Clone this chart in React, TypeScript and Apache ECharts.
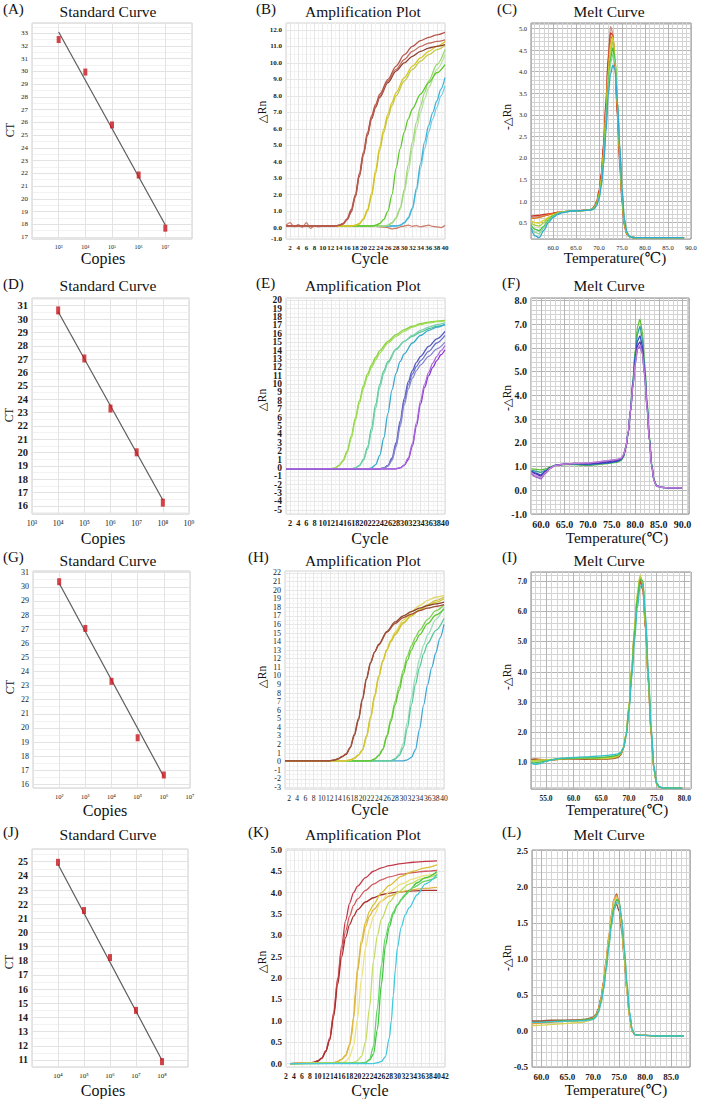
import React, { useEffect, useRef } from "react";
import * as echarts from "echarts";

const SERIF = "Liberation Serif, DejaVu Serif, serif";
const SUP = ["⁰", "¹", "²", "³", "⁴", "⁵", "⁶", "⁷", "⁸", "⁹"];

/* ================= Standard curves ================= */
const copiesA = [1e3, 1e4, 1e5, 1e6, 1e7];
const ctA = [32.5, 29.95, 25.8, 21.87, 17.7];
const fitA = [33.1, 17.95];
const copiesD = [1e4, 1e5, 1e6, 1e7, 1e8];
const ctD = [30.65, 27.05, 23.3, 20.02, 16.25];
const fitD = [30.55, 16.45];
const copiesG = [1e2, 1e3, 1e4, 1e5, 1e6];
const ctG = [30.36, 27.05, 23.3, 19.3, 16.66];
const fitG = [30.25, 16.54];
const copiesJ = [1e4, 1e5, 1e6, 1e7, 1e8];
const ctJ = [24.96, 21.55, 18.23, 14.5, 10.88];
const fitJ = [24.82, 10.98];

/* ================= Amplification plots ([cycle, ΔRn]) ================= */
// (B)
const bBrown1 = [[1,0.12],[13,0.1],[14,0.15],[15,0.25],[16,0.55],[17,1.1],[18,2.0],[19,3.3],[20,4.6],[21,5.8],[22,6.8],[23,7.5],[24,8.1],[26,9.0],[28,9.8],[30,10.5],[32,11.0],[34,11.35],[36,11.55],[38,11.7],[40,11.85]];
const bBrown2 = [[1,0.1],[13,0.1],[14,0.14],[15,0.24],[16,0.5],[17,1.0],[18,1.9],[19,3.2],[20,4.5],[21,5.7],[22,6.7],[23,7.4],[24,8.0],[26,8.9],[28,9.6],[30,10.2],[32,10.7],[34,11.0],[36,11.2],[38,11.3],[40,11.4]];
const bBrown3 = [[1,0.1],[13,0.1],[14,0.14],[15,0.22],[16,0.48],[17,0.95],[18,1.85],[19,3.1],[20,4.4],[21,5.6],[22,6.6],[23,7.3],[24,7.9],[26,8.8],[28,9.5],[30,10.0],[32,10.4],[34,10.7],[36,10.9],[38,11.0],[40,11.1]];
const bYellow1 = [[1,0.1],[17,0.1],[18,0.15],[19,0.25],[20,0.55],[21,1.1],[22,2.1],[23,3.5],[24,4.9],[25,6.0],[26,6.9],[27,7.6],[28,8.2],[30,9.1],[32,9.8],[34,10.3],[36,10.7],[38,11.0],[40,11.3]];
const bYellow2 = [[1,0.1],[17,0.1],[18,0.14],[19,0.22],[20,0.5],[21,1.0],[22,1.9],[23,3.3],[24,4.7],[25,5.8],[26,6.7],[27,7.4],[28,8.0],[30,8.9],[32,9.6],[34,10.1],[36,10.5],[38,10.8],[40,11.05]];
const bGreen = [[1,0.1],[22,0.1],[23,0.15],[24,0.25],[25,0.5],[26,1.0],[27,2.0],[28,3.6],[29,4.8],[30,5.8],[31,6.6],[32,7.2],[34,8.1],[36,8.8],[38,9.4],[40,9.9]];
const bLime1 = [[1,0.1],[25,0.1],[26,0.15],[27,0.3],[28,0.6],[29,1.2],[30,2.3],[31,3.8],[32,5.2],[33,6.4],[34,7.4],[35,8.2],[36,8.9],[38,9.9],[40,10.8]];
const bLime2 = [[1,0.1],[25,0.1],[26,0.14],[27,0.27],[28,0.55],[29,1.1],[30,2.1],[31,3.4],[32,4.8],[33,6.0],[34,7.0],[35,7.8],[36,8.5],[38,9.6],[40,10.5]];
const bCyan1 = [[1,0.1],[28,0.1],[29,0.15],[30,0.3],[31,0.6],[32,1.2],[33,2.4],[34,3.9],[35,5.2],[36,6.2],[37,7.0],[38,7.7],[39,8.4],[40,9.1]];
const bCyan2 = [[1,0.1],[28,0.1],[29,0.14],[30,0.27],[31,0.55],[32,1.1],[33,2.2],[34,3.6],[35,4.8],[36,5.8],[37,6.6],[38,7.3],[39,8.0],[40,8.6]];
const bNtc = [[1,0.15],[2,0.3],[3,0.05],[4,0.18],[5,0.02],[6,0.3],[7,-0.05],[8,0.12],[9,0.05],[10,0.1],[12,0.08],[14,0.12],[16,0.1],[18,0.12],[20,0.08],[22,0.1],[24,0.05],[26,0.0],[27,-0.08],[28,-0.05],[29,0.05],[30,0.1],[31,0.15],[32,0.08],[33,0.12],[34,0.05],[35,0.1],[36,0.15],[37,0.08],[38,0.05],[39,0.0],[40,0.15]];
const bColors = ["#b5574a", "#c4685c", "#8c3e2e", "#d6c420", "#c2c848", "#5cc828", "#9cd878", "#b4e29a", "#3fb4d8", "#74cbe4", "#cc7a68"];

// (E)
const eLime1 = [[1,-0.1],[12,-0.1],[13,0.0],[14,0.3],[15,0.9],[16,2.0],[17,3.8],[18,5.9],[19,8.0],[20,9.8],[21,11.2],[22,12.3],[23,13.2],[24,14.0],[26,15.1],[28,15.9],[30,16.5],[32,16.9],[34,17.2],[36,17.4],[38,17.5],[40,17.6]];
const eLime2 = [[1,-0.1],[12,-0.1],[13,-0.02],[14,0.25],[15,0.8],[16,1.8],[17,3.5],[18,5.6],[19,7.7],[20,9.5],[21,10.9],[22,12.0],[23,12.9],[24,13.7],[26,14.9],[28,15.7],[30,16.3],[32,16.8],[34,17.1],[36,17.3],[38,17.45],[40,17.55]];
const eTeal1 = [[1,-0.1],[17,-0.1],[18,0.0],[19,0.3],[20,1.0],[21,2.5],[22,4.8],[23,7.6],[24,10.0],[25,11.6],[26,12.7],[28,14.2],[30,15.1],[32,15.7],[34,16.2],[36,16.6],[38,16.9],[40,17.1]];
const eTeal2 = [[1,-0.1],[17,-0.1],[18,-0.02],[19,0.25],[20,0.9],[21,2.2],[22,4.3],[23,7.1],[24,9.6],[25,11.3],[26,12.5],[28,14.1],[30,15.1],[32,15.8],[34,16.4],[36,16.8],[38,17.1],[40,17.3]];
const eCyan = [[1,-0.1],[21,-0.1],[22,0.0],[23,0.4],[24,1.5],[25,3.6],[26,6.5],[27,9.3],[28,11.3],[29,12.7],[30,13.6],[32,14.9],[34,15.8],[36,16.4],[38,16.8],[40,17.1]];
const eBlue1 = [[1,-0.1],[24,-0.1],[25,0.0],[26,0.3],[27,1.2],[28,3.0],[29,5.6],[30,8.3],[31,10.3],[32,11.6],[33,12.6],[34,13.3],[36,14.5],[38,15.4],[40,16.3]];
const eBlue2 = [[1,-0.1],[24,-0.1],[25,-0.02],[26,0.25],[27,1.0],[28,2.7],[29,5.2],[30,7.9],[31,9.9],[32,11.2],[33,12.1],[34,12.8],[36,13.9],[38,14.9],[40,15.8]];
const eBlue3 = [[1,-0.1],[24,-0.1],[25,-0.03],[26,0.2],[27,0.9],[28,2.5],[29,4.9],[30,7.5],[31,9.4],[32,10.7],[33,11.6],[34,12.3],[36,13.3],[38,14.2],[40,15.0]];
const ePurple1 = [[1,-0.1],[28,-0.1],[29,0.0],[30,0.3],[31,1.0],[32,2.6],[33,5.0],[34,7.6],[35,9.6],[36,11.0],[37,12.0],[38,12.8],[39,13.5],[40,14.1]];
const ePurple2 = [[1,-0.1],[28,-0.1],[29,0.02],[30,0.35],[31,1.2],[32,2.9],[33,5.4],[34,8.0],[35,10.0],[36,11.4],[37,12.5],[38,13.3],[39,14.0],[40,14.6]];
const eColors = ["#86d23a", "#a2dc58", "#52c690", "#7ad0b0", "#36a8cc", "#5458c0", "#6c74cc", "#8a88d0", "#8c34d2", "#a868dc"];

// (H)
const hBrown1 = [[1,0.1],[12,0.1],[13,0.2],[14,0.35],[15,0.6],[16,0.9],[17,1.7],[18,3.2],[19,5.0],[20,7.4],[21,9.8],[22,11.6],[23,12.8],[24,13.6],[26,15.1],[28,16.1],[30,16.8],[32,17.2],[34,17.6],[36,17.9],[38,18.1],[40,18.3]];
const hBrown2 = [[1,0.1],[12,0.1],[13,0.18],[14,0.3],[15,0.55],[16,0.85],[17,1.6],[18,3.0],[19,4.8],[20,7.2],[21,9.6],[22,11.5],[23,12.8],[24,13.7],[26,15.2],[28,16.3],[30,17.0],[32,17.5],[34,17.9],[36,18.2],[38,18.4],[40,18.6]];
const hYellow1 = [[1,0.1],[16,0.1],[17,0.2],[18,0.4],[19,0.8],[20,1.4],[21,3.0],[22,5.3],[23,7.8],[24,10.0],[25,11.8],[26,13.1],[27,14.1],[28,14.9],[30,16.2],[32,17.1],[34,17.7],[36,18.2],[38,18.6],[40,19.0]];
const hYellow2 = [[1,0.1],[16,0.1],[17,0.18],[18,0.36],[19,0.72],[20,1.3],[21,2.8],[22,5.0],[23,7.5],[24,9.8],[25,11.7],[26,13.1],[27,14.2],[28,15.1],[30,16.5],[32,17.5],[34,18.2],[36,18.8],[38,19.2],[40,19.4]];
const hYellow3 = [[1,0.1],[16,0.1],[17,0.19],[18,0.38],[19,0.76],[20,1.35],[21,2.9],[22,5.1],[23,7.6],[24,9.9],[25,11.7],[26,13.0],[27,14.0],[28,14.8],[30,16.1],[32,17.0],[34,17.7],[36,18.3],[38,18.8],[40,19.2]];
const hGreen1 = [[1,0.1],[22,0.1],[23,0.3],[24,0.7],[25,1.4],[26,2.9],[27,4.7],[28,6.6],[29,8.3],[30,10.2],[31,11.8],[32,13.0],[33,14.0],[34,14.8],[36,16.1],[38,17.1],[40,17.8]];
const hGreen2 = [[1,0.1],[22,0.1],[23,0.32],[24,0.75],[25,1.5],[26,3.1],[27,5.0],[28,7.0],[29,8.8],[30,10.7],[31,12.3],[32,13.5],[33,14.5],[34,15.3],[36,16.6],[38,17.6],[40,18.3]];
const hTeal1 = [[1,0.1],[27,0.1],[28,0.3],[29,0.7],[30,1.6],[31,3.9],[32,6.6],[33,9.0],[34,11.0],[35,12.6],[36,13.8],[38,15.3],[40,16.7]];
const hTeal2 = [[1,0.1],[27,0.1],[28,0.35],[29,0.9],[30,2.1],[31,4.6],[32,7.4],[33,9.9],[34,12.0],[35,13.6],[36,14.8],[38,16.6],[40,18.0]];
const hCyan = [[1,0.1],[30,0.1],[31,0.2],[32,0.5],[33,1.4],[34,3.8],[35,6.6],[36,9.0],[37,11.0],[38,12.7],[39,14.4],[40,16.0]];
const hColors = ["#a14f38", "#8e4430", "#d2c62c", "#e2d66a", "#c8c040", "#5ec834", "#7ed050", "#56c89a", "#9edcb8", "#3ea8d2"];

// (K)
const kRed1 = [[3,0.0],[8,0.01],[9,0.03],[10,0.06],[11,0.13],[12,0.3],[13,0.6],[14,1.2],[15,2.0],[16,2.75],[17,3.35],[18,3.75],[19,4.0],[20,4.15],[22,4.35],[24,4.5],[26,4.58],[28,4.63],[31,4.68],[34,4.71],[37,4.73],[40,4.74]];
const kRed2 = [[3,0.0],[8,0.01],[9,0.03],[10,0.06],[11,0.12],[12,0.28],[13,0.58],[14,1.15],[15,1.95],[16,2.65],[17,3.1],[18,3.45],[19,3.7],[20,3.85],[22,4.05],[24,4.2],[26,4.3],[28,4.37],[31,4.43],[34,4.47],[37,4.5],[40,4.52]];
const kRed3 = [[3,0.0],[8,0.01],[9,0.03],[10,0.06],[11,0.12],[12,0.28],[13,0.55],[14,1.1],[15,1.85],[16,2.5],[17,2.95],[18,3.25],[19,3.45],[20,3.6],[22,3.78],[24,3.88],[26,3.95],[28,3.99],[31,4.02],[34,4.04],[37,4.05],[40,4.05]];
const kGold1 = [[3,0.0],[14,0.02],[15,0.05],[16,0.1],[17,0.2],[18,0.45],[18.5,0.65],[19,1.1],[19.5,1.7],[20,2.25],[21,2.9],[22,3.3],[23,3.56],[24,3.72],[26,4.0],[28,4.17],[31,4.38],[34,4.5],[37,4.58],[40,4.65]];
const kGold2 = [[3,0.0],[14,0.02],[15,0.05],[16,0.1],[17,0.18],[18,0.42],[19,1.05],[20,2.15],[21,2.8],[22,3.2],[23,3.45],[24,3.6],[26,3.8],[28,3.92],[31,4.02],[34,4.07],[37,4.1],[40,4.12]];
const kGold3 = [[3,0.0],[16,0.02],[17,0.05],[18,0.15],[19,0.42],[20,1.05],[21,2.0],[22,2.7],[23,3.15],[24,3.45],[26,3.8],[28,4.02],[31,4.2],[34,4.32],[37,4.4],[40,4.45]];
const kYG = [[3,0.0],[18,0.01],[19,0.03],[20,0.07],[21,0.17],[22,0.5],[23,1.3],[24,2.4],[25,3.0],[26,3.38],[28,3.78],[30,4.0],[33,4.2],[36,4.32],[40,4.42]];
const kGreen1 = [[3,0.0],[21,0.01],[22,0.03],[23,0.08],[24,0.22],[25,0.8],[26,1.85],[27,2.75],[28,3.2],[29,3.5],[30,3.7],[31,3.84],[33,4.05],[35,4.23],[37,4.35],[40,4.49]];
const kGreen2 = [[3,0.0],[21,0.01],[22,0.02],[23,0.1],[24,0.4],[25,1.3],[26,2.3],[27,2.95],[28,3.3],[29,3.55],[30,3.72],[32,3.95],[34,4.12],[37,4.27],[40,4.36]];
const kCyan = [[3,0.0],[24,0.0],[25,0.02],[26,0.05],[27,0.16],[28,0.6],[28.5,1.0],[29,1.6],[29.5,2.2],[30,2.7],[31,3.2],[32,3.48],[33,3.65],[35,3.95],[37,4.2],[40,4.42]];
const kColors = ["#c23a4a", "#d05a60", "#a8302c", "#d8c032", "#e0b448", "#ece27e", "#c4dc64", "#42c440", "#66d46a", "#44c8da"];

/* ================= Melt curves (temperature grid + -ΔRn per well) ================= */
// (C)
const cTemp = [55.2,56,57,58,59,60,61,62,64,66,68,68.5,69,69.5,70,70.5,71,71.5,72,72.5,73,73.5,74,74.5,75,75.5,76,76.5,77,78,80,85,88.5];
const cRed = [0.65,0.66,0.67,0.69,0.70,0.72,0.74,0.75,0.77,0.78,0.80,0.82,0.88,1.0,1.25,1.65,2.35,3.3,4.3,4.9,4.85,4.1,3.0,1.9,1.0,0.45,0.24,0.18,0.16,0.15,0.15,0.15,0.15];
const cPink = [0.62,0.63,0.64,0.66,0.68,0.71,0.73,0.75,0.77,0.78,0.80,0.82,0.87,0.98,1.2,1.6,2.3,3.3,4.4,5.05,4.9,4.0,2.9,1.8,0.95,0.42,0.23,0.18,0.16,0.15,0.15,0.15,0.15];
const cOrange = [0.6,0.6,0.62,0.65,0.68,0.71,0.73,0.75,0.77,0.78,0.79,0.81,0.86,0.97,1.18,1.55,2.2,3.1,4.1,4.75,4.85,4.2,3.1,2.0,1.05,0.48,0.25,0.18,0.16,0.15,0.15,0.15,0.15];
const cYellow = [0.55,0.5,0.49,0.55,0.62,0.68,0.72,0.75,0.77,0.78,0.79,0.81,0.85,0.95,1.15,1.5,2.1,3.0,3.95,4.6,4.8,4.3,3.2,2.1,1.1,0.5,0.26,0.18,0.16,0.15,0.15,0.15,0.15];
const cYG = [0.5,0.44,0.42,0.5,0.6,0.67,0.72,0.75,0.77,0.78,0.79,0.81,0.85,0.95,1.12,1.45,2.0,2.9,3.8,4.45,4.7,4.3,3.3,2.2,1.15,0.52,0.27,0.18,0.16,0.15,0.15,0.15,0.15];
const cGreen = [0.45,0.35,0.31,0.42,0.56,0.65,0.71,0.74,0.77,0.78,0.79,0.8,0.84,0.94,1.1,1.4,1.95,2.8,3.7,4.3,4.55,4.25,3.3,2.2,1.2,0.55,0.28,0.19,0.16,0.15,0.15,0.15,0.15];
const cLGreen = [0.4,0.28,0.24,0.38,0.53,0.64,0.7,0.74,0.77,0.78,0.79,0.8,0.83,0.92,1.08,1.38,1.9,2.7,3.6,4.2,4.4,4.2,3.3,2.25,1.25,0.58,0.29,0.19,0.16,0.15,0.15,0.15,0.15];
const cCyan = [0.38,0.2,0.15,0.32,0.5,0.62,0.69,0.73,0.77,0.78,0.79,0.8,0.82,0.9,1.05,1.35,1.85,2.6,3.45,3.95,4.15,4.05,3.3,2.3,1.3,0.6,0.3,0.2,0.16,0.15,0.15,0.15,0.15];
const cColors = ["#d03020", "#c89080", "#e07820", "#d8d020", "#a0d030", "#40c040", "#80d890", "#30a8d0"];

// (F)
const fTemp = [58,59,60,61,62,63,65,67,70,72,74,76,77,77.5,78,78.5,79,79.5,80,80.5,81,81.5,82,82.5,83,83.5,84,84.5,85.5,87.5,89.8];
const fGreen = [0.9,0.88,0.86,0.9,0.98,1.05,1.08,1.08,1.05,1.08,1.12,1.18,1.25,1.4,1.75,2.4,3.4,4.6,5.9,6.9,7.2,6.7,5.4,3.8,2.3,1.1,0.45,0.2,0.12,0.1,0.1];
const fTeal = [0.85,0.8,0.75,0.85,0.96,1.04,1.09,1.1,1.07,1.1,1.14,1.2,1.27,1.42,1.78,2.4,3.4,4.6,5.8,6.6,6.9,6.4,5.2,3.7,2.2,1.05,0.42,0.2,0.12,0.1,0.1];
const fBlue = [0.8,0.72,0.65,0.8,0.95,1.05,1.1,1.12,1.1,1.12,1.16,1.22,1.3,1.45,1.8,2.45,3.4,4.5,5.6,6.3,6.5,6.1,5.0,3.6,2.2,1.05,0.42,0.2,0.12,0.1,0.1];
const fIndigo = [0.78,0.68,0.6,0.78,0.95,1.05,1.1,1.13,1.12,1.15,1.2,1.25,1.32,1.47,1.8,2.4,3.3,4.4,5.4,6.1,6.25,5.9,4.9,3.5,2.1,1.0,0.4,0.18,0.12,0.1,0.1];
const fPurple = [0.7,0.55,0.48,0.72,0.92,1.04,1.1,1.13,1.14,1.18,1.24,1.28,1.34,1.48,1.8,2.4,3.3,4.35,5.3,5.95,6.05,5.75,4.8,3.45,2.1,1.0,0.4,0.18,0.12,0.1,0.1];
const fViolet = [0.75,0.6,0.52,0.75,0.93,1.04,1.1,1.13,1.15,1.2,1.25,1.3,1.35,1.5,1.82,2.45,3.35,4.4,5.35,6.0,6.1,5.8,4.85,3.5,2.1,1.0,0.4,0.18,0.12,0.1,0.1];
const fColors = ["#5cc030", "#30a0a0", "#3048c8", "#5030b0", "#9050c8", "#c080d8"];

// (I)
const iTemp = [52.3,53,54,55,56,57,58,60,62,64,66,67,68,68.5,69,69.5,70,70.5,71,71.5,72,72.5,73,73.5,74,74.5,75,75.5,76,78,79.6];
const iRed = [1.1,1.12,1.1,1.08,1.1,1.12,1.14,1.15,1.14,1.13,1.14,1.15,1.2,1.28,1.5,1.95,2.8,4.0,5.3,6.4,7.0,6.7,5.4,3.7,2.0,0.8,0.3,0.2,0.18,0.17,0.17];
const iBrown = [1.12,1.13,1.12,1.1,1.1,1.11,1.12,1.13,1.12,1.12,1.13,1.14,1.18,1.26,1.48,1.95,2.85,4.1,5.4,6.5,7.1,6.8,5.4,3.6,1.9,0.78,0.3,0.2,0.18,0.17,0.17];
const iYellow = [1.05,1.08,1.1,1.1,1.12,1.13,1.14,1.15,1.15,1.14,1.15,1.17,1.22,1.3,1.52,2.0,2.9,4.2,5.5,6.6,7.2,6.9,5.5,3.7,2.0,0.8,0.3,0.2,0.18,0.17,0.17];
const iYG = [1.08,1.06,1.07,1.08,1.1,1.12,1.14,1.15,1.16,1.16,1.18,1.2,1.24,1.3,1.5,1.95,2.85,4.1,5.4,6.5,7.15,7.0,5.6,3.8,2.05,0.82,0.31,0.2,0.18,0.17,0.17];
const iGreen = [1.02,1.0,1.03,1.06,1.1,1.13,1.15,1.16,1.17,1.17,1.2,1.22,1.26,1.32,1.5,1.9,2.8,4.0,5.3,6.4,7.05,7.0,5.7,3.9,2.1,0.85,0.32,0.2,0.18,0.17,0.17];
const iCyan = [1.0,0.95,0.98,1.05,1.1,1.14,1.16,1.18,1.2,1.22,1.25,1.27,1.3,1.35,1.5,1.9,2.7,3.8,5.0,6.1,6.8,6.9,5.9,4.0,2.2,0.9,0.35,0.22,0.18,0.17,0.17];
const iColors = ["#d04030", "#a86030", "#d8d030", "#a8d040", "#48c048", "#38c0c8"];

// (L)
const lTemp = [58.2,60,62,64,66,68,69,70,70.5,71,71.5,72,72.5,73,73.5,74,74.5,75,75.5,76,76.5,77,77.5,78,79,80,82,85,87.4];
const lRed = [0.13,0.13,0.14,0.14,0.15,0.15,0.16,0.18,0.22,0.3,0.45,0.68,0.98,1.3,1.6,1.82,1.9,1.78,1.45,1.0,0.55,0.2,0.0,-0.05,-0.06,-0.06,-0.07,-0.07,-0.07];
const lBrown = [0.14,0.14,0.15,0.15,0.15,0.16,0.17,0.19,0.23,0.31,0.46,0.68,0.96,1.26,1.52,1.7,1.76,1.66,1.38,0.98,0.55,0.2,0.0,-0.05,-0.06,-0.06,-0.07,-0.07,-0.07];
const lOrange = [0.1,0.11,0.12,0.13,0.14,0.15,0.16,0.18,0.22,0.3,0.45,0.69,1.0,1.32,1.62,1.83,1.88,1.76,1.44,1.0,0.55,0.2,0.0,-0.05,-0.06,-0.06,-0.07,-0.07,-0.07];
const lYellow = [0.07,0.08,0.09,0.1,0.11,0.12,0.14,0.16,0.2,0.28,0.42,0.64,0.95,1.28,1.58,1.8,1.86,1.75,1.45,1.0,0.55,0.2,0.0,-0.05,-0.06,-0.06,-0.07,-0.07,-0.07];
const lGreen = [0.12,0.12,0.13,0.14,0.14,0.15,0.16,0.17,0.2,0.27,0.4,0.6,0.88,1.2,1.5,1.72,1.82,1.8,1.55,1.12,0.65,0.25,0.02,-0.05,-0.06,-0.06,-0.07,-0.07,-0.07];
const lCyan = [0.12,0.12,0.13,0.13,0.14,0.14,0.15,0.16,0.19,0.26,0.38,0.57,0.84,1.15,1.45,1.68,1.78,1.77,1.55,1.15,0.68,0.27,0.03,-0.05,-0.06,-0.06,-0.07,-0.07,-0.07];
const lColors = ["#c84848", "#8a5a3a", "#e0a040", "#d8d050", "#3cc048", "#40c0c8"];

/* ================= helpers ================= */
function stepFmt(step: number, dec: number, extra?: [number, string][] | null) {
  return (v: number) => {
    if (extra) for (const [k, s] of extra) if (Math.abs(v - k) < 1e-6) return s;
    const q = v / step;
    if (Math.abs(q - Math.round(q)) > 1e-6) return "";
    return dec > 0 ? v.toFixed(dec) : String(Math.round(v) + 0);
  };
}

function buildOption() {
  const grid: any[] = [];
  const xAxis: any[] = [];
  const yAxis: any[] = [];
  const series: any[] = [];
  const graphic: any[] = [];

  const lab = (size: number, bold: boolean, fmt: any, margin = 4) => ({
    fontFamily: SERIF, fontSize: size, fontWeight: bold ? "bold" : "normal",
    color: "#1a1a1a", margin, formatter: fmt, showMinLabel: true, showMaxLabel: true, hideOverlap: false,
  });
  const add = (rect: any, border: string, x: any, y: any) => {
    const i = grid.length;
    grid.push({ ...rect, show: true, borderColor: border, borderWidth: 1, containLabel: false, backgroundColor: "transparent" });
    xAxis.push({ ...x, gridIndex: i, axisLine: { show: false }, axisTick: { show: false } });
    yAxis.push({ ...y, gridIndex: i, axisLine: { show: false }, axisTick: { show: false } });
    return i;
  };

  const std = (rect: any, copies: number[], ct: number[], fit: number[], xExp: number[], lbl: number[], yr: number[], yFont: number, xFont: number, bold: boolean, mark: number[]) => {
    const i = add(rect, "#cfcfcf",
      {
        type: "log", logBase: 10, min: Math.pow(10, xExp[0]), max: Math.pow(10, xExp[1]),
        axisLabel: lab(xFont, false, (v: number) => {
          const e = Math.log10(v); const r = Math.round(e);
          if (Math.abs(e - r) > 1e-6 || r < lbl[0] || r > lbl[1]) return "";
          return "10" + SUP[r];
        }, 5),
        splitLine: { show: true, lineStyle: { color: "#e3e3e3", width: 1 } },
      },
      {
        type: "value", min: yr[0], max: yr[1], minInterval: 1, maxInterval: 1,
        axisLabel: lab(yFont, bold, stepFmt(1, 0)),
        splitLine: { show: true, lineStyle: { color: "#e3e3e3", width: 1 } },
        minorTick: { show: false, splitNumber: 2 },
        minorSplitLine: { show: true, lineStyle: { color: "#f2f2f2", width: 1 } },
      });
    series.push({
      type: "line", xAxisIndex: i, yAxisIndex: i, silent: true, symbol: "none",
      data: [[copies[0], fit[0]], [copies[copies.length - 1], fit[1]]],
      lineStyle: { color: "#5c5c5c", width: 1.2 }, z: 3,
    });
    series.push({
      type: "scatter", xAxisIndex: i, yAxisIndex: i, silent: true,
      data: copies.map((c, k) => [c, ct[k]]),
      symbol: "rect", symbolSize: mark, itemStyle: { color: "#c8161d" }, z: 4,
    });
  };

  const amp = (rect: any, curves: number[][][], colors: string[], xr: number[], yr: number[], ystep: number, ydec: number, extra: any, yFont: number, xFont: number, bold: boolean) => {
    const i = add(rect, "#d2d2d2",
      {
        type: "value", min: xr[0], max: xr[1], minInterval: 2, maxInterval: 2,
        axisLabel: lab(xFont, bold, stepFmt(2, 0), 5),
        splitLine: { show: true, lineStyle: { color: "#e6e6e6", width: 1 } },
        minorTick: { show: false, splitNumber: 2 },
        minorSplitLine: { show: true, lineStyle: { color: "#f3f3f3", width: 1 } },
      },
      {
        type: "value", min: yr[0], max: yr[1], minInterval: ystep, maxInterval: ystep,
        axisLabel: lab(yFont, bold, stepFmt(ystep, ydec, extra)),
        splitLine: { show: true, lineStyle: { color: "#e6e6e6", width: 1 } },
        minorTick: { show: false, splitNumber: 2 },
        minorSplitLine: { show: true, lineStyle: { color: "#f3f3f3", width: 1 } },
      });
    curves.forEach((pts, k) => series.push({
      type: "line", xAxisIndex: i, yAxisIndex: i, silent: true, symbol: "none",
      data: pts, smooth: 0.3, smoothMonotone: "x",
      lineStyle: { color: colors[k], width: 1.3 },
    }));
  };

  const melt = (rect: any, temps: number[], curves: number[][], colors: string[], xr: number[], yr: number[], ystep: number, yFont: number, xFont: number, bold: boolean) => {
    const i = add(rect, "#8a8a8a",
      {
        type: "value", min: xr[0], max: xr[1], minInterval: 5, maxInterval: 5,
        axisLabel: lab(xFont, bold, stepFmt(5, 1), 5),
        splitLine: { show: true, lineStyle: { color: "#b4b4b4", width: 1 } },
        minorTick: { show: false, splitNumber: 5 },
        minorSplitLine: { show: true, lineStyle: { color: "#d4d4d4", width: 1 } },
      },
      {
        type: "value", min: yr[0], max: yr[1], minInterval: ystep, maxInterval: ystep,
        axisLabel: lab(yFont, bold, stepFmt(ystep, 1)),
        splitLine: { show: true, lineStyle: { color: "#b4b4b4", width: 1 } },
        minorTick: { show: false, splitNumber: 5 },
        minorSplitLine: { show: true, lineStyle: { color: "#d4d4d4", width: 1 } },
      });
    curves.forEach((vals, k) => series.push({
      type: "line", xAxisIndex: i, yAxisIndex: i, silent: true, symbol: "none",
      data: temps.map((t, j) => [t, vals[j]]), smooth: 0.3, smoothMonotone: "x",
      lineStyle: { color: colors[k], width: 1.3 },
    }));
  };

  // Column 1: standard curves
  std({ left: 32, top: 23, width: 160, height: 216 }, copiesA, ctA, fitA, [2, 8], [3, 7], [16.85, 33.8], 7, 6, false, [4, 7]);
  std({ left: 32, top: 298, width: 157, height: 216 }, copiesD, ctD, fitD, [3, 9], [3, 9], [15.4, 31.58], 10.5, 8, true, [4, 8]);
  std({ left: 33, top: 571, width: 157, height: 217 }, copiesG, ctG, fitG, [1, 7], [2, 7], [15.74, 31.12], 8, 6.5, false, [4, 7]);
  std({ left: 32, top: 849, width: 156, height: 218 }, copiesJ, ctJ, fitJ, [3, 9], [4, 8], [10.5, 25.9], 10, 7, true, [4, 7]);

  // Column 2: amplification plots
  amp({ left: 286, top: 23, width: 159, height: 216 },
    [bNtc, bCyan2, bCyan1, bLime2, bLime1, bGreen, bYellow2, bYellow1, bBrown3, bBrown2, bBrown1],
    [bColors[10], bColors[9], bColors[8], bColors[7], bColors[6], bColors[5], bColors[4], bColors[3], bColors[2], bColors[1], bColors[0]],
    [1, 40], [-0.69, 12.42], 1, 1, [[-0.69, "-1.0"]], 7, 7, true);
  amp({ left: 286, top: 298, width: 159, height: 216 },
    [eLime1, eLime2, eTeal1, eTeal2, eCyan, eBlue1, eBlue2, eBlue3, ePurple1, ePurple2], eColors,
    [1, 40], [-5.5, 20.27], 1, 0, null, 9.5, 8.3, true);
  amp({ left: 285, top: 571, width: 159, height: 218 },
    [hCyan, hTeal2, hTeal1, hGreen2, hGreen1, hYellow3, hYellow2, hYellow1, hBrown2, hBrown1],
    [hColors[9], hColors[8], hColors[7], hColors[6], hColors[5], hColors[4], hColors[3], hColors[2], hColors[1], hColors[0]],
    [1, 40], [-3.19, 22.23], 1, 0, null, 8, 7.6, false);
  amp({ left: 286, top: 849, width: 159, height: 218 },
    [kRed1, kRed2, kRed3, kGold1, kGold2, kGold3, kYG, kGreen1, kGreen2, kCyan], kColors,
    [2, 42], [-0.08, 5.02], 0.5, 1, null, 9, 7.6, true);

  // Column 3: melt curves
  melt({ left: 531, top: 23, width: 160, height: 216 }, cTemp,
    [cPink, cRed, cOrange, cYellow, cYG, cGreen, cLGreen, cCyan], [cColors[1], cColors[0], cColors[2], cColors[3], cColors[4], cColors[5], cColors[6], cColors[7]],
    [55.2, 90], [0.12, 5.13], 0.5, 6.5, 6.5, false);
  melt({ left: 531, top: 298, width: 158, height: 216 }, fTemp,
    [fGreen, fTeal, fBlue, fIndigo, fPurple, fViolet], fColors,
    [57.9, 91.4], [-1, 8.1], 1, 10, 10, true);
  melt({ left: 531, top: 572, width: 160, height: 217 }, iTemp,
    [iRed, iBrown, iYellow, iYG, iGreen, iCyan], iColors,
    [52.3, 81.2], [0.14, 7.3], 1, 7.5, 7.5, true);
  melt({ left: 532, top: 850, width: 158, height: 217 }, lTemp,
    [lBrown, lRed, lOrange, lYellow, lGreen, lCyan], [lColors[1], lColors[0], lColors[2], lColors[3], lColors[4], lColors[5]],
    [58.2, 88.65], [-0.5, 2.51], 0.5, 9, 9, true);

  // texts
  const txt = (x: number, y: number, text: string, size: number, extra: any = {}, rot = 0) => ({
    type: "text", x, y, rotation: rot, silent: true, z: 100,
    style: { text, fontSize: size, fontFamily: SERIF, fill: "#111", align: "center", verticalAlign: "middle", ...extra },
  });
  const titleRows = [11, 285, 560, 834];
  titleRows.forEach((y) => {
    graphic.push(txt(108, y, "Standard Curve", 15.5));
    graphic.push(txt(363, y, "Amplification Plot", 15.5));
    graphic.push(txt(609, y, "Melt Curve", 15.5));
  });
  const letters: [string, number, number][] = [
    ["(A)", 3, 9], ["(B)", 256, 9], ["(C)", 497, 9],
    ["(D)", 3, 284], ["(E)", 256, 283], ["(F)", 502, 283],
    ["(G)", 3, 557], ["(H)", 248, 557], ["(I)", 502, 557],
    ["(J)", 3, 832], ["(K)", 248, 832], ["(L)", 502, 832],
  ];
  letters.forEach(([t, x, y]) => graphic.push(txt(x, y, t, 15, { align: "left" })));
  const xNames: [string, number, number, number][] = [
    ["Copies", 103, 258, 16], ["Cycle", 370, 258, 16], ["Temperature(℃)", 615, 258, 15],
    ["Copies", 103, 538, 16], ["Cycle", 370, 538, 16], ["Temperature(℃)", 617, 538, 15],
    ["Copies", 105, 810, 16], ["Cycle", 370, 809, 16], ["Temperature(℃)", 617, 810, 15],
    ["Copies", 103, 1090, 16], ["Cycle", 370, 1090, 16], ["Temperature(℃)", 616, 1090, 15],
  ];
  xNames.forEach(([t, x, y, s]) => graphic.push(txt(x, y, t, s)));
  const yNames: [string, number, number][] = [
    ["CT", 10, 130], ["△Rn", 262, 112], ["-△Rn", 507, 117],
    ["CT", 9, 415], ["△Rn", 262, 400], ["-△Rn", 507, 398],
    ["CT", 10, 687], ["△Rn", 262, 677], ["-△Rn", 507, 677],
    ["CT", 9, 962], ["△Rn", 262, 962], ["-△Rn", 507, 958],
  ];
  yNames.forEach(([t, x, y]) => graphic.push(txt(x, y, t, 11.5, {}, Math.PI / 2)));

  return {
    animation: false,
    backgroundColor: "#ffffff",
    grid, xAxis, yAxis, series, graphic,
  };
}

export default function App() {
  const ref = useRef<HTMLDivElement>(null);
  useEffect(() => {
    if (!ref.current) return;
    const chart = echarts.init(ref.current, undefined, { renderer: "svg" });
    chart.setOption(buildOption() as any);
    return () => chart.dispose();
  }, []);
  return (
    <div
      ref={ref}
      style={{ position: "absolute", left: 0, top: 0, width: 705, height: 1099, background: "#fff" }}
    />
  );
}
